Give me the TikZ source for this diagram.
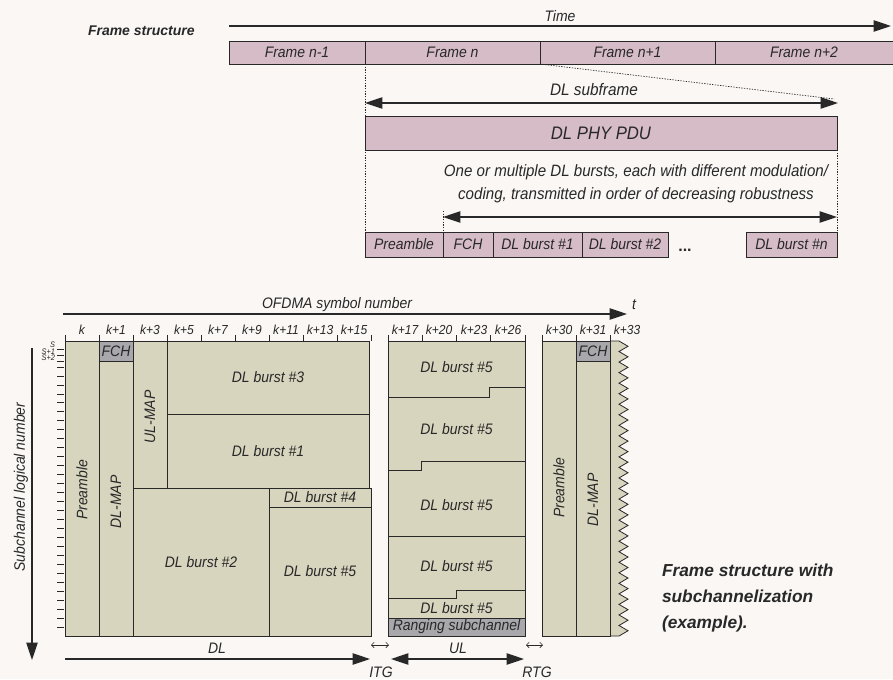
\documentclass[tikz,border=0pt]{standalone}
\usepackage{fontspec}
\setmainfont[FakeStretch=0.92]{Liberation Sans}
\newfontfamily\boldfam{Liberation Sans}
\usetikzlibrary{arrows.meta}
\definecolor{bgc}{RGB}{250,247,245}
\definecolor{framepink}{RGB}{213,188,199}
\definecolor{beige}{RGB}{215,213,190}
\definecolor{fchgrey}{RGB}{168,168,172}
\definecolor{ink}{RGB}{40,40,40}
\definecolor{linec}{RGB}{40,40,40}
\tikzset{
  cell/.style={draw=linec, line width=0.6pt, anchor=north west},
  pinkcell/.style={cell, fill=framepink},
  beigecell/.style={cell, fill=beige},
  greycell/.style={cell, fill=fchgrey},
  wh/.style 2 args={minimum width=0.75pt*#1, minimum height=0.75pt*#2},
  ticklab/.style={font=\itshape\fontsize{9.8}{11}\selectfont},
  slab/.style={font=\itshape\fontsize{6}{6}\selectfont, anchor=east},
  boldlab/.style={font=\boldfam\bfseries\itshape\fontsize{10.5}{12}\selectfont},
  arr/.style={draw=linec, line width=1pt, -{Triangle[length=13pt,width=8.5pt]}},
  darr/.style={draw=linec, line width=1pt, {Triangle[length=13pt,width=8.5pt]}-{Triangle[length=13pt,width=8.5pt]}},
  smallarr/.style={draw=linec, line width=0.5pt, {Straight Barb[length=2pt,width=4pt]}-{Straight Barb[length=2pt,width=4pt]}},
  dotl/.style={draw=linec, line width=0.5pt, dash pattern=on 1pt off 1pt},
  divl/.style={draw=linec, line width=0.6pt},
  tickl/.style={draw=linec, line width=0.6pt}
}
\begin{document}
\begin{tikzpicture}[x=0.75pt,y=-0.75pt,
  font=\itshape\fontsize{11.4}{13.6}\selectfont, text=ink,
  every node/.style={inner sep=0pt, outer sep=0pt}]

\path[use as bounding box, fill=bgc] (0,0) rectangle (893,679);

% ---------------- top: frame structure ----------------
\node[boldlab, anchor=west] (fs) at (88,31) {Frame structure};
\node (time) at (560,16) {Time};
\coordinate (tL) at (229,26);
\coordinate (tR) at (891,26);
\draw[arr] (tL) -- (tR);

\node[pinkcell, wh={136}{23}] (fm1) at (229,41) {Frame n-1};
\node[pinkcell, wh={175}{23}] (fn)  at (365,41) {Frame n};
\node[pinkcell, wh={175}{23}] (fn1) at (540,41) {Frame n+1};
\node[pinkcell, wh={178}{23}] (fn2) at (715,41) {Frame n+2};

\node[font=\itshape\fontsize{12.5}{14}\selectfont] (sflab) at (594,90) {DL subframe};
\coordinate (sfL) at (365,103);
\coordinate (sfR) at (838,103);
\draw[darr] (sfL) -- (sfR);
\coordinate (dEnd) at (834,99);

\node[pinkcell, wh={472}{34}, font=\itshape\fontsize{13.6}{15}\selectfont] (pdu) at (365,116) {DL PHY PDU};

\node[align=center, font=\itshape\fontsize{12.3}{17}\selectfont] (desc) at (636,184)
  {One or multiple DL bursts, each with different modulation/\\coding, transmitted in order of decreasing robustness};

\coordinate (arL) at (443,217);
\coordinate (arLt) at (443,211);
\coordinate (arR) at (837,217);
\draw[darr] (arL) -- (arR);

\node[pinkcell, wh={78}{25}] (rpre) at (365,232) {Preamble};
\node[pinkcell, wh={50}{25}] (rfch) at (443,232) {FCH};
\node[pinkcell, wh={89}{25}] (rb1)  at (493,232) {DL burst \#1};
\node[pinkcell, wh={86}{25}] (rb2)  at (582,232) {DL burst \#2};
\node[font=\boldfam\bfseries\fontsize{12}{12}\selectfont] (dots) at (685,250) {...};
\node[pinkcell, wh={91}{25}] (rbn)  at (746,232) {DL burst \#n};

\draw[dotl] (fn.south west) -- (rpre.north west);
\draw[dotl] (fn1.south west) -- (dEnd);
\draw[dotl] (pdu.south east) -- (rbn.north east);
\draw[dotl] (arLt) -- (rfch.north west);

% ---------------- bottom: subchannelization ----------------
\node (ofdma) at (337,305) {OFDMA symbol number};
\coordinate (oL) at (63,314);
\coordinate (oR) at (627,314);
\draw[arr] (oL) -- (oR);
\node (tlab) at (634,305) {t};

% tick marks and labels
\foreach \x in {65,99,133,167,201,235,269,303,337,371,388,422.25,456.5,490.75,525,542,576,610}
  \draw[tickl] (\x,335) -- (\x,341);
\foreach \x/\t in {82/k,116/k+1,150/k+3,184/k+5,218/k+7,252/k+9,286/k+11,320/k+13,354/k+15,
                   405/k+17,439/k+20,474/k+23,508/k+26,559/k+30,593/k+31,627/k+33}
  \node[ticklab] at (\x,330) {\t};

% subchannel axis
\coordinate (axT) at (32,348);
\coordinate (axB) at (32,660);
\draw[arr] (axT) -- (axB);
\node[rotate=90] (sublab) at (21,487) {Subchannel logical number};
\foreach \y in {349,355,361} \draw[tickl] (57,\y) -- (64,\y);
\foreach \i in {0,...,29} \draw[tickl] (57,{367+8.97*\i}) -- (64,{367+8.97*\i});
\node[slab] (s0) at (55,345) {S};
\node[slab] (s1) at (55,351.5) {S+1};
\node[slab] (s2) at (55,357.5) {S+2};

% DL region
\node[beigecell, wh={34}{295}] (pre1) at (65,341) {};
\node[rotate=90] (pre1l) at (82,490) {Preamble};
\node[greycell, wh={34}{20}] (fch1) at (99,341) {FCH};
\node[beigecell, wh={34}{275}] (dlmap1) at (99,361) {};
\node[rotate=90] (dlmap1l) at (116,502) {DL-MAP};
\node[beigecell, wh={34}{147}] (ulmap) at (133,341) {};
\node[rotate=90] (ulmapl) at (150,417) {UL-MAP};
\node[beigecell, wh={202}{73}] (b3) at (167,341) {DL burst \#3};
\node[beigecell, wh={202}{74}] (b1) at (167,414) {DL burst \#1};
\node[beigecell, wh={136}{148}] (b2) at (133,488) {DL burst \#2};
\node[beigecell, wh={102}{19}] (b4) at (269,488) {DL burst \#4};
\node[beigecell, wh={102}{129}] (b5) at (269,507) {DL burst \#5};

% UL region
\node[beigecell, wh={137}{295}] (ulreg) at (388,341) {};
\draw[divl] (525,387) -- (489,387) -- (489,397) -- (388,397);
\draw[divl] (525,461) -- (421,461) -- (421,470) -- (388,470);
\draw[divl] (388,536) -- (525,536);
\draw[divl] (525,590) -- (456,590) -- (456,598) -- (388,598);
\node (u1) at (456.5,367) {DL burst \#5};
\node (u2) at (456.5,429) {DL burst \#5};
\node (u3) at (456.5,505) {DL burst \#5};
\node (u4) at (456.5,566) {DL burst \#5};
\node (u5) at (456.5,608) {DL burst \#5};
\node[greycell, wh={137}{18}] (rang) at (388,618) {Ranging subchannel};

% next frame
\fill[beige] (610,341) -- (619,341)
  \foreach \i in {1,...,56} { -- ({ifthenelse(isodd(\i),628,619)},{341+5.268*\i}) } -- (610,636) -- cycle;
\draw[divl] (610,341) -- (619,341)
  \foreach \i in {1,...,56} { -- ({ifthenelse(isodd(\i),628,619)},{341+5.268*\i}) } -- (610,636);
\node[beigecell, wh={34}{295}] (pre2) at (542,341) {};
\node[rotate=90] (pre2l) at (559,488) {Preamble};
\node[greycell, wh={34}{20}] (fch2) at (576,341) {FCH};
\node[beigecell, wh={34}{275}] (dlmap2) at (576,361) {};
\node[rotate=90] (dlmap2l) at (593,500) {DL-MAP};

% DL / UL / gaps
\coordinate (dlL) at (65,659);
\coordinate (dlR) at (370,659);
\draw[arr] (dlL) -- (dlR);
\node (dllab) at (217,648) {DL};
\coordinate (itgL) at (371,645);
\coordinate (itgR) at (389,645);
\draw[smallarr] (itgL) -- (itgR);
\node (itg) at (381,672) {ITG};
\coordinate (ulL) at (391,659);
\coordinate (ulR) at (524,659);
\draw[darr] (ulL) -- (ulR);
\node (ullab) at (458,648) {UL};
\coordinate (rtgL) at (526,645);
\coordinate (rtgR) at (543,645);
\draw[smallarr] (rtgL) -- (rtgR);
\node (rtg) at (537,672) {RTG};

% caption
\node[anchor=north west, align=left, font=\boldfam\bfseries\itshape\fontsize{13}{19.5}\selectfont] (cap) at (662,564)
  {Frame structure with\\subchannelization\\(example).};
\end{tikzpicture}
\end{document}
